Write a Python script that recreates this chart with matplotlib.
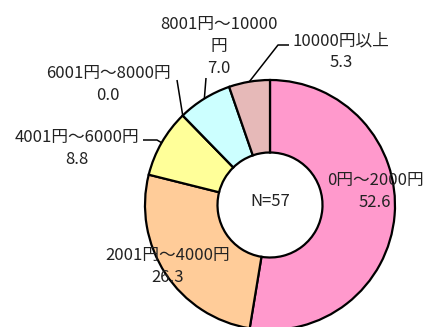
import matplotlib
matplotlib.use("Agg")
import matplotlib.pyplot as plt
import numpy as np

plt.rcParams['font.family'] = ['Noto Sans CJK JP', 'DejaVu Sans']

categories = ["0円～2000円", "2001円～4000円", "4001円～6000円",
              "6001円～8000円", "8001円～10000\n円", "10000円以上"]
values = [52.6, 26.3, 8.8, 0.0, 7.0, 5.3]
colors = ["#FF99CC", "#FFCC99", "#FFFF99", "#FFFFFF", "#CCFFFF", "#E6B9B8"]
n_total = 57

W, H = 429, 327
fig = plt.figure(figsize=(W / 100, H / 100), dpi=100)
ax = fig.add_axes([0, 0, 1, 1])

def Y(y):
    return H - y

cx, cy, R = 270, Y(205), 125
ring = 0.58

wedges, _ = ax.pie(values, colors=colors, startangle=90, counterclock=False,
                   center=(cx, cy), radius=R, frame=True,
                   wedgeprops=dict(width=R * ring, edgecolor='black', linewidth=1.6))
ax.set_xlim(0, W)
ax.set_ylim(0, H)
ax.set_aspect('equal')
ax.axis('off')

fs = 12
ax.text(cx, Y(202), f"N={n_total}", ha='center', va='center', fontsize=fs, color='#222222')

# label block centers (pixel layout)
label_pos = [(375, 191.5), (168, 266.5), (77, 148.5), (108, 84.5), (219, 46.5), (341, 51.5)]
for cat, v, (lx, ly) in zip(categories, values, label_pos):
    ax.text(lx, Y(ly), f"{cat}\n{v:.1f}", ha='center', va='center',
            fontsize=fs, linespacing=1.38, color='#222222')

# leader lines from ring edge (computed from wedge angle) to label
elbows = {2: [(157, 140), (143, 140)], 3: [(177, 80)], 4: [(206, 78)], 5: [(278, 45), (289, 45)]}
for i, pts in elbows.items():
    w = wedges[i]
    ang = np.deg2rad((w.theta1 + w.theta2) / 2)
    sx, sy = cx + R * np.cos(ang), cy + R * np.sin(ang)
    xs = [sx] + [p[0] for p in pts]
    ys = [sy] + [Y(p[1]) for p in pts]
    ax.plot(xs, ys, color='black', linewidth=1.1, solid_capstyle='butt')

fig.savefig("out.png", dpi=100)
